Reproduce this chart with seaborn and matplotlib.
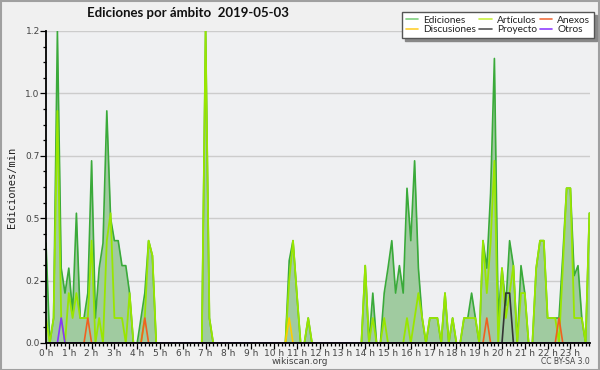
import numpy as np
import pandas as pd
import matplotlib
matplotlib.use("Agg")
import matplotlib.pyplot as plt
import seaborn as sns
from matplotlib.lines import Line2D
from matplotlib.patches import Rectangle
from matplotlib.ticker import MultipleLocator, FixedLocator, FixedFormatter

# ---- data: edits per minute in 10-minute bins (144 bins = 24 h) ----
ediciones = [
    0.4, 0, 0.1, 1.25, 0.3, 0.2, 0.3, 0.12, 0.52, 0.1, 0.1, 0.2,
    0.73, 0.1, 0.3, 0.4, 0.93, 0.5, 0.41, 0.41, 0.31, 0.31, 0.2, 0,
    0, 0.1, 0.2, 0.41, 0.35, 0, 0, 0, 0, 0, 0, 0,
    0, 0, 0, 0, 0, 0, 1.25, 0.1, 0, 0, 0, 0,
    0, 0, 0, 0, 0, 0, 0, 0, 0, 0, 0, 0,
    0, 0, 0, 0, 0.33, 0.41, 0.2, 0, 0, 0.1, 0, 0,
    0, 0, 0, 0, 0, 0, 0, 0, 0, 0, 0, 0,
    0.31, 0, 0.2, 0, 0, 0.2, 0.3, 0.41, 0.2, 0.31, 0.2, 0.62,
    0.41, 0.73, 0.3, 0.1, 0, 0.1, 0.1, 0.1, 0, 0.2, 0, 0.1,
    0, 0, 0.1, 0.1, 0.2, 0.1, 0, 0.41, 0.3, 0.6, 1.14, 0.1,
    0.3, 0.15, 0.41, 0.31, 0, 0.31, 0.2, 0, 0, 0.3, 0.41, 0.41,
    0.1, 0.1, 0.1, 0.1, 0.35, 0.62, 0.62, 0.27, 0.31, 0.1, 0, 0.52,
]
articulos = [
    0.1, 0, 0.1, 0.93, 0.1, 0, 0.2, 0.1, 0.2, 0.1, 0.1, 0.1,
    0.41, 0, 0.1, 0, 0.41, 0.52, 0.1, 0.1, 0.1, 0, 0.2, 0,
    0, 0, 0.1, 0.41, 0.35, 0, 0, 0, 0, 0, 0, 0,
    0, 0, 0, 0, 0, 0, 1.25, 0.1, 0, 0, 0, 0,
    0, 0, 0, 0, 0, 0, 0, 0, 0, 0, 0, 0,
    0, 0, 0, 0, 0.25, 0.41, 0.2, 0, 0, 0.1, 0, 0,
    0, 0, 0, 0, 0, 0, 0, 0, 0, 0, 0, 0,
    0.31, 0, 0.1, 0, 0, 0.1, 0, 0, 0, 0, 0, 0.1,
    0, 0.1, 0.2, 0.1, 0, 0.1, 0.1, 0.1, 0, 0.2, 0, 0.1,
    0, 0, 0.1, 0.1, 0.1, 0.1, 0, 0.41, 0.2, 0.4, 0.73, 0,
    0.3, 0.1, 0.2, 0.31, 0, 0.2, 0.2, 0, 0, 0.3, 0.41, 0.41,
    0.1, 0.1, 0.1, 0, 0.3, 0.62, 0.62, 0.1, 0.1, 0.1, 0, 0.52,
]
# sparse series: (bin index, value)
anexos_bins = [11, 26, 116, 135]
anexos_vals = [0.1, 0.1, 0.1, 0.1]
discusiones_bins = [64]
discusiones_vals = [0.1]
proyecto_bins = [121, 122]
proyecto_vals = [0.2, 0.2]
otros_bins = [4]
otros_vals = [0.1]

hour_labels = [f"{h} h" for h in range(24)]
y_ticks = [0, 0.25, 0.5, 0.75, 1.0, 1.25]
y_labels = ["0.0", "0.2", "0.5", "0.7", "1.0", "1.2"]

n = len(ediciones)
hours = np.arange(n) / 6.0

def dense(bins, vals):
    a = np.zeros(n)
    a[bins] = vals
    return a

df = pd.DataFrame({
    "hora": hours,
    "Ediciones": ediciones,
    "Artículos": articulos,
    "Anexos": dense(anexos_bins, anexos_vals),
    "Discusiones": dense(discusiones_bins, discusiones_vals),
    "Proyecto": dense(proyecto_bins, proyecto_vals),
    "Otros": dense(otros_bins, otros_vals),
})

colors = {
    "Ediciones": "#3aaa3a",
    "Discusiones": "#ffcc00",
    "Artículos": "#99e600",
    "Proyecto": "#333333",
    "Anexos": "#f06020",
    "Otros": "#8833ff",
}
legend_colors = {
    "Ediciones": "#7fcf7f",
    "Discusiones": "#ffd030",
    "Artículos": "#c8f040",
    "Proyecto": "#555555",
    "Anexos": "#f07040",
    "Otros": "#9040ff",
}

sns.set_theme(style="white")
plt.rcParams["font.family"] = ["DejaVu Sans"]

W, H = 600, 370
fig = plt.figure(figsize=(W / 100, H / 100), dpi=100)
fig.patch.set_facecolor("#f0f0f0")

left, right, top, bottom = 46, 590, 31, 343
ax = fig.add_axes([left / W, 1 - bottom / H, (right - left) / W, (bottom - top) / H])
ax.set_facecolor("#eff0f2")

ax.fill_between(df["hora"], df["Ediciones"], 0, color="#a0cba0", linewidth=0, zorder=1)
for name, lw in [("Ediciones", 1.2), ("Artículos", 1.3), ("Discusiones", 1.2),
                 ("Anexos", 1.2), ("Proyecto", 1.2), ("Otros", 1.2)]:
    sns.lineplot(data=df, x="hora", y=name, ax=ax, color=colors[name],
                 linewidth=lw, zorder=2, legend=False)

ax.set_xlim(0, (right - left) / 22.8)
ax.set_ylim(0, 1.25)

ax.xaxis.set_major_locator(FixedLocator(list(range(24))))
ax.xaxis.set_major_formatter(FixedFormatter(hour_labels))
ax.xaxis.set_minor_locator(MultipleLocator(1 / 6))
ax.yaxis.set_major_locator(FixedLocator(y_ticks))
ax.yaxis.set_major_formatter(FixedFormatter(y_labels))
ax.yaxis.set_minor_locator(MultipleLocator(0.0625))

ax.tick_params(axis="both", which="major", direction="out", length=4, width=0.9,
               color="black", labelsize=6.5, labelcolor="#444444", pad=0.5)
ax.tick_params(axis="both", which="minor", direction="out", length=2.5, width=0.9,
               color="black")
ax.tick_params(axis="x", which="both", bottom=True)
ax.tick_params(axis="y", which="both", left=True)

ax.grid(axis="y", which="major", color="#cccccc", linewidth=1)
ax.set_axisbelow(True)
for s in ["top", "right"]:
    ax.spines[s].set_visible(False)
for s in ["left", "bottom"]:
    ax.spines[s].set_color("black")
    ax.spines[s].set_linewidth(1.3)
    ax.spines[s].set_zorder(5)

ax.set_xlabel("")
ax.set_ylabel("Ediciones/min", family="DejaVu Sans Mono", fontsize=7.5,
              color="#222222", labelpad=6)

fig.text(188 / W, 1 - 13 / H, "Ediciones por ámbito  2019-05-03", ha="center",
         va="center", fontsize=9.5, fontweight="bold", color="#111111",
         family="Lato")
fig.text(300 / W, 1 - 362 / H, "wikiscan.org", ha="center", va="center",
         fontsize=6.5, color="#444444")
fig.text(590 / W, 1 - 362 / H, "CC BY-SA 3.0", ha="right", va="center",
         fontsize=5.5, color="#444444")

order = ["Ediciones", "Discusiones", "Artículos", "Proyecto", "Anexos", "Otros"]
handles = [Line2D([0], [0], color=legend_colors[k], lw=1.2) for k in order]
leg = fig.legend(handles, order, loc="upper right",
                 bbox_to_anchor=(594 / W, 1 - 12 / H), ncol=3,
                 prop={"family": "Lato", "size": 7.3}, frameon=True, fancybox=False,
                 shadow={"color": "#888888", "alpha": 1},
                 handlelength=1.2, handletextpad=0.5, columnspacing=0.35,
                 labelspacing=0.05, borderpad=0.35, borderaxespad=0)
leg.get_frame().set_edgecolor("#555555")
leg.get_frame().set_linewidth(1)
leg.get_frame().set_facecolor("white")
for t in leg.get_texts():
    t.set_color("#222222")

# outer frame
fig.patches.append(Rectangle((0.5 / W, 0.5 / H), (W - 1.5) / W, (H - 1.5) / H,
                             transform=fig.transFigure, fill=False,
                             edgecolor="#a0a0a0", linewidth=1.5))

fig.savefig("out.png", dpi=100, facecolor=fig.get_facecolor())
